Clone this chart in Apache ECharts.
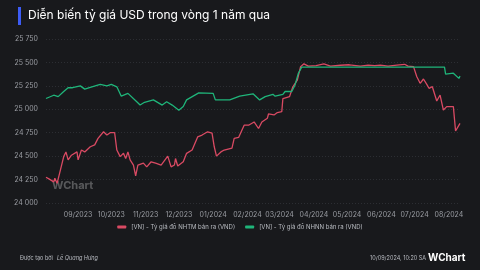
<!DOCTYPE html>
<html>
<head>
<meta charset="utf-8">
<script src="https://cdn.jsdelivr.net/npm/echarts@6/dist/echarts.min.js"></script>
<style>
  html, body { margin: 0; padding: 0; background: #18191c; }
  #chart { width: 480px; height: 270px; }
</style>
</head>
<body>
<div id="chart"></div>
<script>
const nhtmDates = ['2023-08-03','2023-08-06','2023-08-10','2023-08-11','2023-08-13','2023-08-16','2023-08-19','2023-08-21','2023-08-23','2023-08-26','2023-08-31','2023-09-01','2023-09-04','2023-09-07','2023-09-12','2023-09-16','2023-09-19','2023-09-24','2023-09-27','2023-09-30','2023-10-04','2023-10-06','2023-10-09','2023-10-12','2023-10-14','2023-10-16','2023-10-18','2023-10-21','2023-10-23','2023-10-25','2023-10-30','2023-11-02','2023-11-06','2023-11-10','2023-11-15','2023-11-21','2023-11-24','2023-11-27','2023-11-28','2023-11-30','2023-12-05','2023-12-08','2023-12-13','2023-12-18','2023-12-22','2023-12-27','2023-12-31','2024-01-02','2024-01-04','2024-01-08','2024-01-11','2024-01-18','2024-01-20','2024-01-24','2024-01-29','2024-02-02','2024-02-07','2024-02-11','2024-02-14','2024-02-19','2024-02-20','2024-02-25','2024-02-28','2024-03-03','2024-03-04','2024-03-10','2024-03-13','2024-03-17','2024-03-20','2024-03-23','2024-03-27','2024-04-03','2024-04-10','2024-04-16','2024-04-25','2024-05-03','2024-05-13','2024-05-20','2024-05-26','2024-05-31','2024-06-07','2024-06-15','2024-06-22','2024-06-25','2024-06-30','2024-07-03','2024-07-06','2024-07-09','2024-07-12','2024-07-14','2024-07-17','2024-07-21','2024-07-24','2024-07-27','2024-07-30','2024-08-05','2024-08-07','2024-08-11'];
const nhtmValues = [24275,24255,24225,24265,24210,24350,24495,24545,24460,24510,24545,24460,24565,24545,24600,24620,24690,24760,24725,24750,24750,24565,24495,24530,24475,24545,24460,24405,24290,24405,24425,24385,24440,24425,24405,24500,24385,24405,24475,24395,24440,24530,24565,24705,24725,24760,24745,24600,24500,24545,24565,24585,24690,24700,24830,24830,24865,24795,24865,24905,24950,24940,24965,24975,25115,25135,25240,25310,25455,25485,25460,25465,25485,25460,25470,25475,25460,25472,25465,25472,25460,25472,25480,25460,25455,25348,25277,25323,25266,25224,25241,25088,25152,24992,25028,25028,24768,24850];

const nhnnDates = ['2023-08-03','2023-08-10','2023-08-14','2023-08-19','2023-08-23','2023-08-27','2023-09-03','2023-09-07','2023-09-12','2023-09-21','2023-09-27','2023-10-01','2023-10-06','2023-10-10','2023-10-16','2023-10-24','2023-10-27','2023-10-31','2023-11-08','2023-11-16','2023-11-20','2023-11-25','2023-12-01','2023-12-05','2023-12-08','2023-12-19','2024-01-01','2024-01-03','2024-01-16','2024-01-25','2024-02-06','2024-02-12','2024-02-17','2024-02-24','2024-02-26','2024-03-04','2024-03-06','2024-03-12','2024-03-15','2024-03-18','2024-03-21','2024-07-28','2024-07-29','2024-08-05','2024-08-10','2024-08-11'];
const nhnnValues = [25115,25150,25135,25190,25230,25230,25250,25215,25235,25265,25250,25265,25240,25140,25170,25080,25045,25075,25100,25045,25080,25045,24990,25030,25100,25175,25170,25100,25100,25140,25165,25100,25135,25160,25140,25160,25190,25190,25260,25385,25450,25450,25375,25385,25330,25355];

const seriesNames = ['[VN] - Tỷ giá đô NHTM bán ra (VND)', '[VN] - Tỷ giá đô NHNN bán ra (VND)'];

const chart = echarts.init(document.getElementById('chart'));
const fmt = v => String(v).replace(/\B(?=(\d{3})+(?!\d))/g, ' ');
const DAY = 86400000;

chart.setOption({
  backgroundColor: '#18191c',
  animation: false,
  textStyle: { fontFamily: 'Inter' },
  grid: { left: 46, right: 20, top: 39, bottom: 67 },
  legend: {
    bottom: 35,
    left: 'center',
    itemGap: 10,
    itemWidth: 9,
    itemHeight: 3,
    icon: 'roundRect',
    textStyle: { color: '#b9bcc2', fontSize: 6, fontFamily: 'Inter' },
    data: seriesNames
  },
  xAxis: {
    type: 'time',
    min: '2023-08-03',
    max: '2024-08-11',
    minInterval: 28 * DAY,
    maxInterval: 31 * DAY,
    axisLine: { show: false },
    axisTick: { show: false },
    splitLine: { show: false },
    axisLabel: {
      color: '#9a9da3',
      fontSize: 7,
      margin: 8,
      formatter: '{MM}/{yyyy}',
      showMinLabel: false,
      showMaxLabel: false
    }
  },
  yAxis: {
    type: 'value',
    min: 24000,
    max: 25750,
    interval: 250,
    axisLine: { show: false },
    axisTick: { show: false },
    axisLabel: { color: '#9a9da3', fontSize: 7, margin: 8, formatter: fmt },
    splitLine: { lineStyle: { color: '#2c2e33', type: [1, 2], width: 1 } }
  },
  series: [
    {
      name: seriesNames[0],
      type: 'line',
      showSymbol: false,
      color: '#d94a63',
      lineStyle: { width: 1.3 },
      data: nhtmDates.map((d, i) => [d, nhtmValues[i]])
    },
    {
      name: seriesNames[1],
      type: 'line',
      showSymbol: false,
      color: '#1fb57a',
      lineStyle: { width: 1.3 },
      data: nhnnDates.map((d, i) => [d, nhnnValues[i]])
    }
  ],
  graphic: [
    { type: 'rect', left: 18, top: 7, shape: { width: 3, height: 18 }, style: { fill: '#3d5cf5' } },
    { type: 'text', left: 28, top: 9, style: { text: 'Diễn biến tỷ giá USD trong vòng 1 năm qua', fill: '#ffffff', font: '12px Inter' } },
    { type: 'text', left: 52, top: 180, style: { text: 'WChart', fill: 'rgba(255,255,255,0.28)', font: 'bold 11px Inter' } },
    { type: 'text', left: 20, top: 255, style: { text: 'Được tạo bởi', fill: '#b9bcc2', font: '5.5px Inter' } },
    { type: 'text', left: 57, top: 255, style: { text: 'Lê Quang Hưng', fill: '#b9bcc2', font: 'italic 5.5px Inter' } },
    { type: 'text', left: 370, top: 255, style: { text: '10/09/2024, 10:20 SA', fill: '#b9bcc2', font: '5.5px Inter' } },
    { type: 'text', left: 428, top: 253, style: { text: 'WChart', fill: '#ffffff', font: 'bold 10px Inter' } }
  ]
});
</script>
</body>
</html>
